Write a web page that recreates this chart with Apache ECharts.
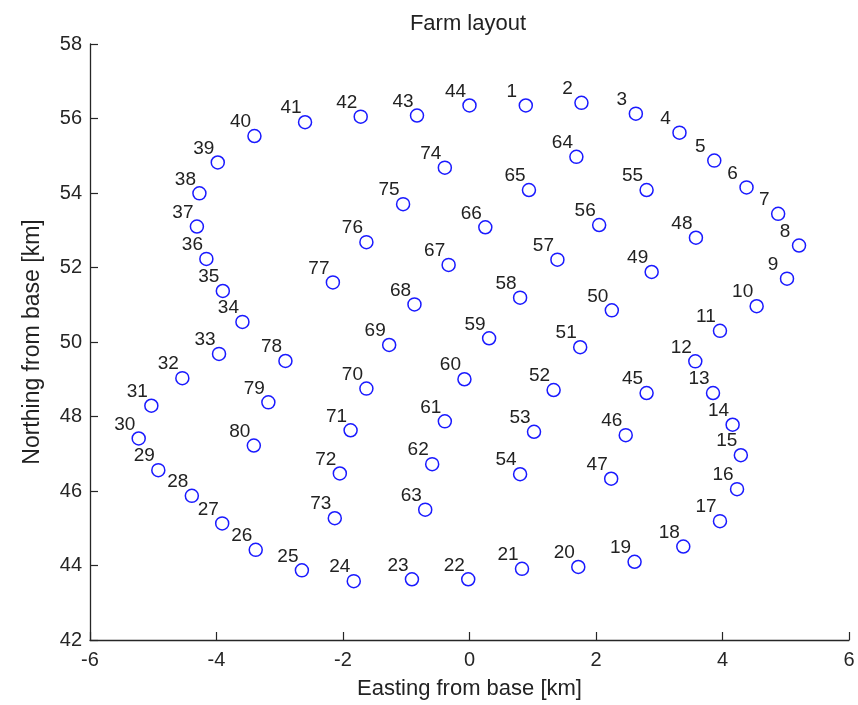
<!DOCTYPE html>
<html>
<head>
<meta charset="utf-8">
<script src="https://cdn.jsdelivr.net/npm/echarts@6/dist/echarts.min.js"></script>
<style>
  html, body { margin: 0; padding: 0; background: #fff; }
  #chart { width: 858px; height: 705px; }
</style>
</head>
<body>
<div id="chart"></div>
<script>
// turbine numbers and positions [km from base]
const turbineIds = [
  1, 2, 3, 4, 5, 6, 7, 8, 9, 10, 11, 12, 13, 14, 15, 16, 17, 18, 19, 20,
  21, 22, 23, 24, 25, 26, 27, 28, 29, 30, 31, 32, 33, 34, 35, 36, 37, 38, 39, 40,
  41, 42, 43, 44, 45, 46, 47, 48, 49, 50, 51, 52, 53, 54, 55, 56, 57, 58, 59, 60,
  61, 62, 63, 64, 65, 66, 67, 68, 69, 70, 71, 72, 73, 74, 75, 76, 77, 78, 79, 80
];
const easting = [
  0.89, 1.77, 2.63, 3.32, 3.87, 4.38, 4.88, 5.21, 5.02, 4.54,
  3.96, 3.57, 3.85, 4.16, 4.29, 4.23, 3.96, 3.38, 2.61, 1.72,
  0.83, -0.02, -0.91, -1.83, -2.65, -3.38, -3.91, -4.39, -4.92, -5.23,
  -5.03, -4.54, -3.96, -3.59, -3.90, -4.16, -4.31, -4.27, -3.98, -3.40,
  -2.60, -1.72, -0.83, 0.00, 2.80, 2.47, 2.24, 3.58, 2.88, 2.25,
  1.75, 1.33, 1.02, 0.80, 2.80, 2.05, 1.39, 0.80, 0.31, -0.08,
  -0.39, -0.59, -0.70, 1.69, 0.94, 0.25, -0.33, -0.87, -1.27, -1.63,
  -1.88, -2.05, -2.13, -0.39, -1.05, -1.63, -2.16, -2.91, -3.18, -3.41
];
const northing = [
  56.35, 56.42, 56.13, 55.62, 54.87, 54.15, 53.44, 52.59, 51.70, 50.96,
  50.30, 49.48, 48.63, 47.78, 46.96, 46.05, 45.19, 44.51, 44.10, 43.96,
  43.91, 43.63, 43.63, 43.58, 43.87, 44.42, 45.13, 45.87, 46.56, 47.41,
  48.29, 49.03, 49.68, 50.54, 51.37, 52.23, 53.10, 53.99, 54.82, 55.53,
  55.90, 56.05, 56.08, 56.35, 48.63, 47.50, 46.33, 52.80, 51.88, 50.85,
  49.86, 48.71, 47.59, 46.45, 54.08, 53.14, 52.21, 51.19, 50.10, 49.00,
  47.87, 46.72, 45.50, 54.97, 54.08, 53.08, 52.07, 51.01, 49.92, 48.75,
  47.63, 46.47, 45.27, 54.68, 53.70, 52.68, 51.60, 49.49, 48.38, 47.22
];
const xTicks = [-6, -4, -2, 0, 2, 4, 6];
const yTicks = [42, 44, 46, 48, 50, 52, 54, 56, 58];

const points = turbineIds.map((id, i) => [easting[i], northing[i], id]);

const chart = echarts.init(document.getElementById('chart'));
const font = 'Liberation Sans, Arial, sans-serif';

chart.setOption({
  animation: false,
  backgroundColor: '#fff',
  title: {
    text: 'Farm layout',
    left: 463,
    top: 8,
    textAlign: 'center',
    textStyle: { fontFamily: font, fontSize: 22, fontWeight: 'normal', color: '#222' }
  },
  grid: { left: 90, top: 44, width: 759, height: 599 },
  xAxis: {
    type: 'value',
    min: xTicks[0],
    max: xTicks[xTicks.length - 1],
    interval: 2,
    name: 'Easting from base [km]',
    nameLocation: 'middle',
    nameGap: 38,
    nameTextStyle: { fontFamily: font, fontSize: 22, color: '#222' },
    axisLine: { onZero: false, lineStyle: { color: '#262626', width: 1.3 } },
    axisTick: { inside: true, length: 8, lineStyle: { color: '#262626', width: 1.2 } },
    axisLabel: { fontFamily: font, fontSize: 20, color: '#262626', margin: 10 },
    splitLine: { show: false }
  },
  yAxis: {
    type: 'value',
    min: yTicks[0],
    max: yTicks[yTicks.length - 1],
    interval: 2,
    name: 'Northing from base [km]',
    nameLocation: 'middle',
    nameGap: 46,
    nameTextStyle: { fontFamily: font, fontSize: 23, color: '#222' },
    axisLine: { show: true, onZero: false, lineStyle: { color: '#262626', width: 1.3 } },
    axisTick: { show: true, inside: true, length: 8, lineStyle: { color: '#262626', width: 1.2 } },
    axisLabel: { fontFamily: font, fontSize: 20, color: '#262626', margin: 8 },
    splitLine: { show: false }
  },
  series: [{
    type: 'scatter',
    data: points,
    symbol: 'circle',
    symbolSize: 13,
    itemStyle: { color: 'rgba(0,0,0,0)', borderColor: '#1a1aff', borderWidth: 1.5, opacity: 1 },
    label: {
      show: true,
      position: 'inside',
      offset: [-14, -14],
      align: 'center',
      verticalAlign: 'middle',
      formatter: p => String(p.value[2]),
      fontFamily: font,
      fontSize: 19,
      color: '#222'
    },
    emphasis: { disabled: true }
  }]
});
</script>
</body>
</html>
